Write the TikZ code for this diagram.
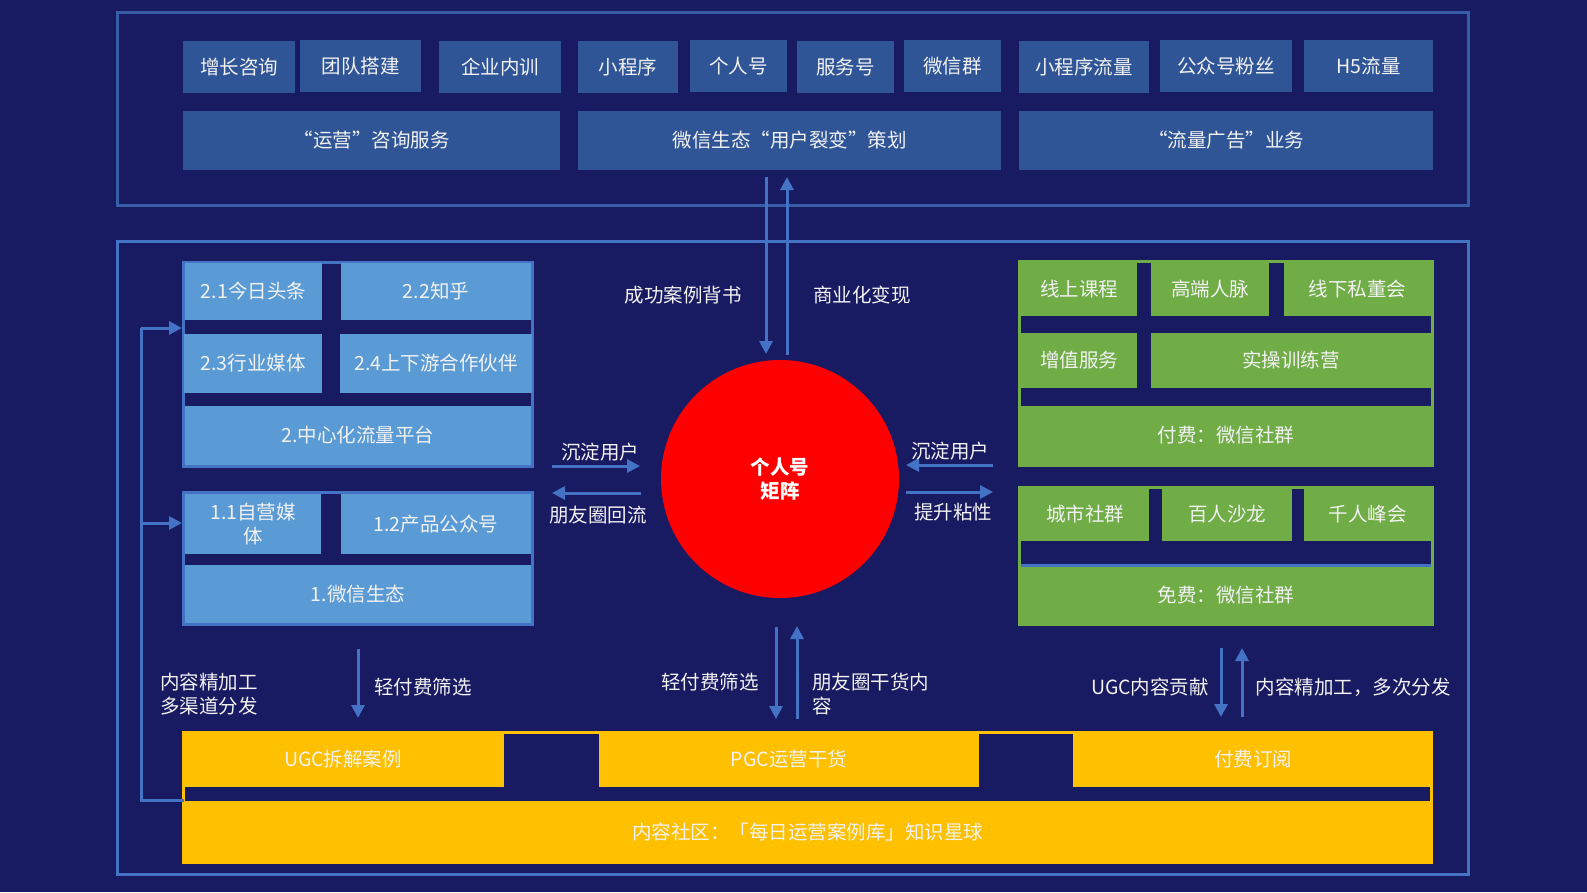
\documentclass[tikz,border=0pt]{standalone}
\usepackage{fontspec}
\setmainfont{Noto Sans CJK SC}
\usetikzlibrary{arrows.meta}
\definecolor{navy}{RGB}{24,26,98}
\definecolor{darkbox}{RGB}{47,85,151}
\definecolor{topframe}{RGB}{53,94,166}
\definecolor{midblue}{RGB}{68,114,196}
\definecolor{lightblue}{RGB}{91,155,213}
\definecolor{grn}{RGB}{112,173,71}
\definecolor{ylw}{RGB}{255,192,0}
\definecolor{txt}{RGB}{242,242,242}
\tikzset{
  cell/.style={rectangle, inner sep=0pt, outer sep=0pt, draw=none, text=txt, align=center,
    font=\fontsize{19.5}{24}\selectfont},
  frame/.style={rectangle, inner sep=0pt, outer sep=0pt, fill=navy, line width=3pt},
  lbl/.style={inner sep=0pt, text=txt, font=\fontsize{19.5}{24}\selectfont},
  arr/.style={draw=midblue, line width=3pt, -{Triangle[width=13pt,length=13pt]}},
  conn/.style={draw=midblue, line width=3pt},
}
\newcommand\mkcell[7]{\node[cell, fill=#6, minimum width={(#4-#2)*1pt}, minimum height={(#5-#3)*1pt}] (#1) at ({(#2+#4)/2},{(#3+#5)/2}) {#7};}
\newcommand\mkframe[6]{\node[frame, draw=#6, minimum width={(#4-#2-3)*1pt}, minimum height={(#5-#3-3)*1pt}] (#1) at ({(#2+#4)/2},{(#3+#5)/2}) {};}
\begin{document}
\begin{tikzpicture}[x=1pt,y=-1pt]
\fill[navy] (0,0) rectangle (1587,892);
\useasboundingbox (0,0) rectangle (1587,892);
% outer frames
\node[frame, draw=topframe, minimum width=1351pt, minimum height=193pt] (topF) at (793,109) {};
\node[frame, draw=midblue, minimum width=1351pt, minimum height=633pt] (botF) at (793,558) {};
% top rows
\mkcell{t1}{183}{41}{295}{93}{darkbox}{增长咨询}
\mkcell{t2}{300}{40}{421}{92}{darkbox}{团队搭建}
\mkcell{t3}{439}{41}{561}{93}{darkbox}{企业内训}
\mkcell{t4}{578}{41}{678}{93}{darkbox}{小程序}
\mkcell{t5}{690}{40}{787}{92}{darkbox}{个人号}
\mkcell{t6}{797}{41}{894}{93}{darkbox}{服务号}
\mkcell{t7}{904}{40}{1001}{92}{darkbox}{微信群}
\mkcell{t8}{1019}{41}{1149}{93}{darkbox}{小程序流量}
\mkcell{t9}{1160}{40}{1292}{92}{darkbox}{公众号粉丝}
\mkcell{t10}{1304}{40}{1433}{92}{darkbox}{H5流量}
\mkcell{s1}{183}{111}{560}{170}{darkbox}{“运营”咨询服务}
\mkcell{s2}{578}{111}{1001}{170}{darkbox}{微信生态“用户裂变”策划}
\mkcell{s3}{1019}{111}{1433}{170}{darkbox}{“流量广告”业务}
% blue groups
\mkframe{g2}{182}{261}{534}{468}{midblue}
\mkcell{c21}{185}{263}{322}{320}{lightblue}{2.1今日头条}
\mkcell{c22}{341}{263}{531}{320}{lightblue}{2.2知乎}
\mkcell{c23}{184}{334}{322}{393}{lightblue}{2.3行业媒体}
\mkcell{c24}{340}{334}{532}{393}{lightblue}{2.4上下游合作伙伴}
\mkcell{c2}{185}{406}{531}{465}{lightblue}{2.中心化流量平台}
\mkframe{g1}{182}{491}{534}{626}{midblue}
\mkcell{c11}{185}{494}{321}{554}{lightblue}{1.1自营媒\\体}
\mkcell{c12}{341}{494}{531}{554}{lightblue}{1.2产品公众号}
\mkcell{c1}{185}{565}{531}{623}{lightblue}{1.微信生态}
% green groups
\mkframe{gp}{1018}{260}{1434}{467}{grn}
\mkcell{p1}{1021}{263}{1137}{316}{grn}{线上课程}
\mkcell{p2}{1151}{263}{1269}{316}{grn}{高端人脉}
\mkcell{p3}{1284}{263}{1431}{316}{grn}{线下私董会}
\mkcell{p4}{1021}{333}{1137}{388}{grn}{增值服务}
\mkcell{p5}{1151}{333}{1431}{388}{grn}{实操训练营}
\mkcell{p0}{1021}{406}{1431}{464}{grn}{付费：微信社群}
\mkframe{gf}{1018}{486}{1434}{626}{grn}
\mkcell{f1}{1021}{488}{1149}{541}{grn}{城市社群}
\mkcell{f2}{1162}{488}{1292}{541}{grn}{百人沙龙}
\mkcell{f3}{1304}{488}{1431}{541}{grn}{千人峰会}
\mkcell{f0}{1021}{567}{1431}{623}{grn}{免费：微信社群}
\draw[midblue, line width=3pt] (1021,565.5) -- (1431,565.5);
% yellow group
\mkframe{gy}{182}{731}{1433}{864}{ylw}
\mkcell{y1}{182}{731}{504}{787}{ylw}{UGC拆解案例}
\mkcell{y2}{599}{731}{979}{787}{ylw}{PGC运营干货}
\mkcell{y3}{1073}{731}{1433}{787}{ylw}{付费订阅}
\mkcell{y0}{182}{801}{1433}{864}{ylw}{内容社区：「每日运营案例库」知识星球}
% circle
\node[circle, fill=red, minimum size=238pt, inner sep=0pt, text=white, align=center,
  font=\fontsize{19.5}{24}\selectfont\bfseries] (hub) at (780,479) {个人号\\矩阵};
% coordinates
\coordinate (uA) at (766,177); \coordinate (uB) at (766,354);
\coordinate (uC) at (787,355); \coordinate (uD) at (787,177);
\coordinate (lA) at (552,466); \coordinate (lB) at (640,466);
\coordinate (lC) at (641,493); \coordinate (lD) at (552,493);
\coordinate (rA) at (993,465); \coordinate (rB) at (906,465);
\coordinate (rC) at (906,492); \coordinate (rD) at (993,492);
\coordinate (bA) at (358,649); \coordinate (bB) at (358,718);
\coordinate (mA) at (776,627); \coordinate (mB) at (776,719);
\coordinate (mC) at (797,719); \coordinate (mD) at (797,626);
\coordinate (kA) at (1221,648); \coordinate (kB) at (1221,717);
\coordinate (kC) at (1242,717); \coordinate (kD) at (1242,648);
\coordinate (eA) at (184,800); \coordinate (eB) at (141,800);
\coordinate (eC) at (141,328); \coordinate (eD) at (182,328);
\coordinate (eE) at (141,523); \coordinate (eF) at (182,523);
% arrows
\draw[arr] (uA) -- (uB);
\draw[arr] (uC) -- (uD);
\draw[arr] (lA) -- (lB);
\draw[arr] (lC) -- (lD);
\draw[arr] (rA) -- (rB);
\draw[arr] (rC) -- (rD);
\draw[arr] (bA) -- (bB);
\draw[arr] (mA) -- (mB);
\draw[arr] (mC) -- (mD);
\draw[arr] (kA) -- (kB);
\draw[arr] (kC) -- (kD);
\draw[conn] (eA) -- (eB) -- (eC);
\draw[arr] (eC) -- (eD);
\draw[arr] (eE) -- (eF);
% labels
\node[lbl] (L1) at (683,295) {成功案例背书};
\node[lbl] (L2) at (862,295) {商业化变现};
\node[lbl] (L3) at (600,452) {沉淀用户};
\node[lbl] (L4) at (598,515) {朋友圈回流};
\node[lbl] (L5) at (950,451) {沉淀用户};
\node[lbl] (L6) at (953,512) {提升粘性};
\node[lbl, anchor=west, align=left] (L7) at (160,694) {内容精加工\\多渠道分发};
\node[lbl] (L8) at (423,687) {轻付费筛选};
\node[lbl] (L9) at (710,682) {轻付费筛选};
\node[lbl, anchor=west, align=left] (L10) at (812,694) {朋友圈干货内\\容};
\node[lbl] (L11) at (1150,687) {UGC内容贡献};
\node[lbl] (L12) at (1353,687) {内容精加工，多次分发};
\end{tikzpicture}
\end{document}
